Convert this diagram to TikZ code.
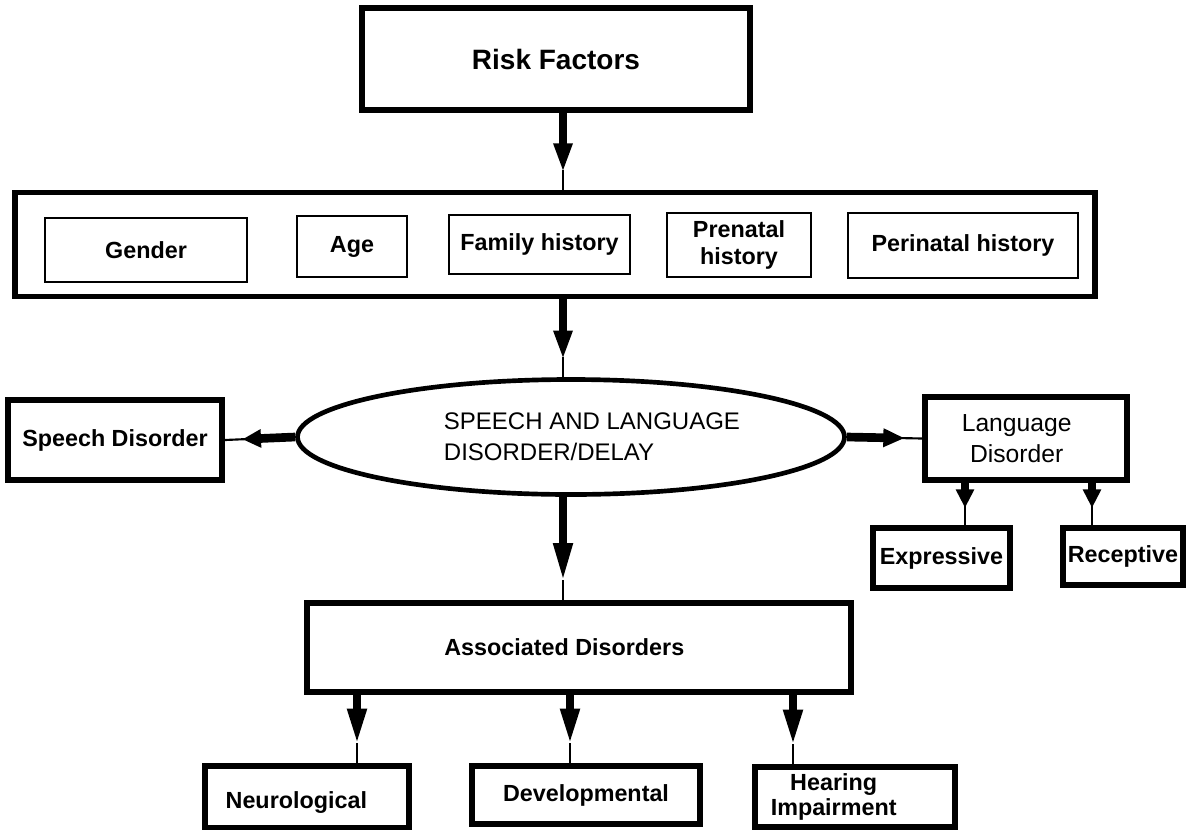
\documentclass[tikz,border=0pt]{standalone}
\usepackage{fontspec}
\setmainfont{Liberation Sans}
\usetikzlibrary{arrows.meta, calc, shapes.geometric}

% thick shaft, long head, thin end
\newcommand{\fatarrow}[3][22pt]{%
  \draw[line width=6.5pt,-{Triangle[length=#1,width=13pt]}] (#2) -- ($(#3)!13pt!(#2)$);
  \draw[line width=1.6pt] ($(#3)!15pt!(#2)$) -- (#3);
}

\begin{document}
\begin{tikzpicture}[x=0.75pt, y=-0.75pt,
  boxsize/.style 2 args={minimum width=#1*0.75pt, minimum height=#2*0.75pt},
  frame/.style={draw, line width=4pt, inner sep=0pt, align=center, font=\bfseries\fontsize{17.5}{19}\selectfont},
  item/.style={draw, line width=1.3pt, inner sep=0pt, align=center, font=\bfseries\fontsize{17.5}{20}\selectfont},
  lbl/.style={align=center, inner sep=0pt, font=\bfseries\fontsize{17.5}{19}\selectfont}]
\useasboundingbox (0,0) rectangle (1186,829);
\coordinate (spine) at (563,0);

% risk factors
\node[frame, line width=4.5pt, boxsize={388}{102}, font=\bfseries\fontsize{21}{24}\selectfont] (risk) at (556,59) {Risk Factors};
\node[frame, line width=3.8pt, boxsize={1080}{104}] (factors) at (555,244.5) {};
\node[item, boxsize={202}{64}] (gender) at (146,250) {Gender};
\node[item, boxsize={110}{61}] (age) at (352,246.5) {Age};
\node[item, boxsize={181}{59}] (family) at (539.5,244.5) {Family history};
\node[item, boxsize={144}{64}] (prenatal) at (739,245) {Prenatal\\history};
\node[item, boxsize={230}{65}] (perinatal) at (963,245.5) {Perinatal history};

% main ellipse and its two sides
\node[draw, ellipse, line width=3.5pt, boxsize={547}{115}, inner sep=0pt] (sld) at (571,437) {};
\node[align=left, font=\fontsize{18}{23}\selectfont] (sldtext) at (592,437) {SPEECH AND LANGUAGE\\DISORDER/DELAY};
\node[frame, line width=4.5pt, boxsize={214}{80}] (speech) at (115,440) {Speech Disorder};
\node[frame, line width=4.5pt, boxsize={202}{83},
  label={[lbl, font=\fontsize{18.5}{23}\selectfont, xshift=-7pt]center:{Language\\Disorder}}] (lang) at (1026,438.5) {};
\node[frame, boxsize={137}{60}] (expr) at (941.5,558) {Expressive};
\node[frame, boxsize={120}{57}] (recep) at (1123,556.5) {Receptive};

% associated disorders
\node[frame, line width=3.8pt, boxsize={544}{89},
  label={[lbl, xshift=-11pt]center:Associated Disorders}] (assoc) at (579,647.5) {};
\node[frame, boxsize={204}{62}, label={[lbl, xshift=-8pt, yshift=-4pt]center:Neurological}] (neuro) at (307,797) {};
\node[frame, boxsize={228}{58}] (devel) at (586,795) {Developmental};
\node[frame, boxsize={200}{60}, label={[lbl, xshift=-16pt]center:{Hearing\\Impairment}}] (hear) at (855,797) {};

\coordinate (ex) at (965,0);
\coordinate (rx) at (1092,0);
\coordinate (nx) at (357,0);
\coordinate (dx) at (570,0);
\coordinate (hx) at (793,0);

% connectors
\fatarrow{risk.south -| spine}{factors.north -| spine}
\fatarrow{factors.south -| spine}{sld.north -| spine}
\fatarrow[30pt]{sld.south -| spine}{assoc.north -| spine}
\fatarrow[14pt]{sld.west}{speech.east}
\fatarrow[16pt]{sld.east}{lang.west}
\fatarrow[14pt]{lang.south -| ex}{expr.north -| ex}
\fatarrow[14pt]{lang.south -| rx}{recep.north -| rx}
\fatarrow[28pt]{assoc.south -| nx}{neuro.north -| nx}
\fatarrow[28pt]{assoc.south -| dx}{devel.north -| dx}
\fatarrow[28pt]{assoc.south -| hx}{hear.north -| hx}
\end{tikzpicture}
\end{document}
